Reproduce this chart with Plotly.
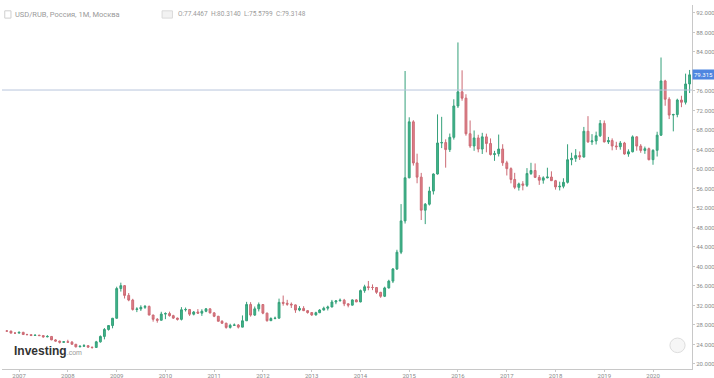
import pandas as pd
import plotly.graph_objects as go

up_color = '#3fb68b'
down_color = '#e0808a'
axis_color = '#c8c8c8'
text_color = '#8a8a8a'

# USD/RUB monthly candles, Oct 2006 .. Oct 2020
opens = [
    26.76, 26.75, 26.33,
    26.33, 26.50, 26.04, 26.01, 25.85, 25.91, 25.82, 25.56, 25.65, 24.94, 24.69, 24.45,
    24.55, 24.48, 24.04, 23.52, 23.64, 23.75, 23.45, 23.39, 24.54, 25.65, 27.08, 27.89,
    29.38, 35.48, 36.07, 34.07, 33.11, 31.18, 31.29, 31.62, 31.81, 30.04, 29.17, 28.97,
    30.24, 30.34, 29.91, 29.41, 29.15, 31.12, 31.18, 30.21, 30.66, 30.43, 30.81, 31.31,
    30.48, 29.79, 28.76, 28.36, 27.50, 27.93, 27.99, 27.56, 28.86, 32.21, 30.03, 31.31,
    32.19, 30.43, 28.88, 29.33, 29.40, 32.64, 32.45, 32.26, 32.12, 31.06, 31.40, 30.94,
    30.55, 30.06, 30.52, 31.06, 31.44, 31.69, 32.72, 32.95, 33.08, 32.34, 32.07, 33.14,
    32.73, 35.05, 35.84, 35.70, 35.69, 34.70, 33.89, 35.60, 37.00, 39.49, 42.93, 49.35,
    58.19, 69.67, 61.24, 58.33, 51.55, 52.77, 55.47, 58.97, 65.34, 65.42, 63.98, 66.50,
    72.93, 75.82, 74.53, 67.23, 64.71, 66.37, 64.09, 66.59, 65.23, 62.96, 63.14, 64.10,
    61.26, 60.07, 57.85, 56.24, 56.94, 56.66, 59.07, 59.69, 58.28, 57.70, 58.18, 58.35,
    57.60, 56.32, 56.45, 57.26, 61.90, 62.18, 62.75, 62.45, 67.74, 65.56, 65.76, 66.81,
    69.35, 65.56, 65.83, 64.72, 64.57, 65.32, 63.08, 63.53, 66.59, 64.70, 63.81, 64.16,
    61.91, 63.83, 66.94, 78.06, 74.31, 71.07, 71.17, 74.15, 73.69, 77.4467,
]
highs = [
    26.96, 26.80, 26.48,
    26.62, 26.58, 26.20, 26.03, 26.01, 25.96, 25.85, 25.91, 25.66, 25.09, 24.79, 24.68,
    24.97, 24.71, 24.11, 23.79, 24.07, 23.89, 23.50, 24.74, 25.85, 27.37, 27.95, 29.45,
    35.85, 36.68, 36.20, 34.55, 33.37, 31.65, 32.04, 32.10, 31.99, 30.09, 29.42, 30.71,
    30.60, 30.73, 30.09, 29.51, 31.66, 31.58, 31.28, 30.87, 31.26, 31.23, 31.48, 31.41,
    30.66, 29.86, 28.98, 28.46, 28.25, 28.31, 28.20, 29.96, 32.75, 32.68, 31.79, 32.62,
    32.24, 30.52, 29.58, 29.72, 33.41, 34.04, 33.16, 32.62, 32.20, 31.87, 31.86, 31.06,
    30.60, 30.72, 31.25, 31.76, 31.97, 33.14, 32.97, 33.43, 33.35, 32.42, 33.25, 33.30,
    35.27, 36.25, 37.03, 36.32, 35.74, 34.79, 35.85, 37.28, 39.68, 43.43, 52.80, 80.10,
    70.60, 70.00, 63.14, 59.20, 53.02, 56.35, 59.10, 71.20, 70.70, 66.08, 67.27, 74.30,
    85.96, 80.24, 75.33, 69.95, 67.90, 67.02, 67.42, 67.24, 66.27, 63.72, 67.06, 65.08,
    61.68, 60.34, 59.21, 57.20, 57.50, 60.18, 61.27, 61.14, 58.76, 58.50, 60.26, 59.52,
    57.76, 57.40, 58.10, 65.07, 63.34, 64.08, 63.60, 68.63, 70.84, 67.15, 67.66, 70.04,
    69.95, 66.58, 66.28, 65.58, 65.73, 65.56, 64.03, 66.89, 66.73, 65.10, 64.60, 64.39,
    64.04, 67.64, 82.87, 78.30, 74.72, 71.33, 74.42, 75.02, 79.56, 80.3140,
]
lows = [
    26.66, 26.28, 26.16,
    26.29, 26.01, 25.93, 25.72, 25.76, 25.78, 25.37, 25.48, 24.88, 24.59, 24.20, 24.40,
    24.33, 23.98, 23.39, 23.43, 23.54, 23.40, 23.13, 23.35, 24.38, 25.05, 26.85, 27.32,
    29.30, 34.85, 33.43, 32.87, 30.95, 30.64, 30.88, 31.30, 29.99, 28.68, 28.47, 28.95,
    29.19, 29.72, 29.24, 28.91, 28.93, 30.76, 29.86, 29.97, 30.26, 29.86, 30.62, 30.36,
    29.61, 28.76, 28.22, 27.24, 27.26, 27.81, 27.28, 27.56, 28.85, 29.71, 29.86, 30.78,
    30.21, 28.68, 28.86, 29.16, 29.33, 31.96, 31.94, 31.49, 30.49, 30.81, 30.85, 30.33,
    29.87, 29.94, 30.43, 30.99, 30.98, 31.64, 32.26, 32.85, 31.86, 31.62, 32.00, 32.70,
    32.65, 34.61, 35.12, 35.15, 34.39, 33.57, 33.73, 35.47, 36.60, 39.28, 42.54, 48.81,
    58.10, 60.70, 57.07, 49.53, 48.69, 52.51, 54.76, 58.86, 64.28, 60.27, 63.49, 66.03,
    72.51, 74.00, 66.83, 64.32, 63.73, 63.42, 63.08, 63.42, 62.77, 61.67, 62.57, 60.65,
    58.67, 57.05, 55.87, 55.57, 55.62, 56.30, 58.77, 58.14, 56.74, 56.99, 58.10, 57.60,
    55.77, 55.60, 56.03, 57.02, 60.76, 61.46, 61.85, 62.35, 65.36, 64.94, 65.03, 66.55,
    65.44, 65.13, 63.83, 63.92, 63.96, 62.93, 62.51, 63.41, 63.75, 63.33, 63.11, 61.77,
    60.87, 62.56, 66.77, 72.97, 70.24, 67.72, 70.61, 72.68, 73.23, 75.5799,
]
closes = [
    26.75, 26.33, 26.33,
    26.50, 26.04, 26.01, 25.85, 25.91, 25.82, 25.56, 25.65, 24.94, 24.69, 24.45, 24.55,
    24.48, 24.04, 23.52, 23.64, 23.75, 23.45, 23.39, 24.54, 25.65, 27.08, 27.89, 29.38,
    35.48, 36.07, 34.07, 33.11, 31.18, 31.29, 31.62, 31.81, 30.04, 29.17, 28.97, 30.24,
    30.34, 29.91, 29.41, 29.15, 31.12, 31.18, 30.21, 30.66, 30.43, 30.81, 31.31, 30.48,
    29.79, 28.76, 28.36, 27.50, 27.93, 27.99, 27.56, 28.86, 32.21, 30.03, 31.31, 32.19,
    30.43, 28.88, 29.33, 29.40, 32.64, 32.45, 32.26, 32.12, 31.06, 31.40, 30.94, 30.55,
    30.06, 30.52, 31.06, 31.44, 31.69, 32.72, 32.95, 33.08, 32.34, 32.07, 33.14, 32.73,
    35.05, 35.84, 35.70, 35.69, 34.70, 33.89, 35.60, 37.00, 39.49, 42.93, 49.35, 58.19,
    69.67, 61.24, 58.33, 51.55, 52.77, 55.47, 58.97, 65.34, 65.42, 63.98, 66.50, 72.93,
    75.82, 74.53, 67.23, 64.71, 66.37, 64.09, 66.59, 65.23, 62.96, 63.14, 64.10, 61.26,
    60.07, 57.85, 56.24, 56.94, 56.66, 59.07, 59.69, 58.28, 57.70, 58.18, 58.35, 57.60,
    56.32, 56.45, 57.26, 61.90, 62.18, 62.75, 62.45, 67.74, 65.56, 65.76, 66.81, 69.35,
    65.56, 65.83, 64.72, 64.57, 65.32, 63.08, 63.53, 66.59, 64.70, 63.81, 64.16, 61.91,
    63.83, 66.94, 78.06, 74.31, 71.07, 71.17, 74.15, 73.69, 77.4467, 79.3148,
]
months = pd.date_range('2006-10-01', periods=len(closes), freq='MS')

# the 80 label sits under the last-price marker in the original
y_ticks = [20, 24, 28, 32, 36, 40, 44, 48, 52, 56, 60, 64, 68, 72, 76, 84, 88, 92]
last_price = 79.3148
marker_line = 76.2

fig = go.Figure()
fig.add_trace(go.Candlestick(
    x=months, open=opens, high=highs, low=lows, close=closes,
    increasing=dict(fillcolor=up_color, line=dict(color='#35a07a', width=1)),
    decreasing=dict(fillcolor=down_color, line=dict(color='#cc6a74', width=1)),
    whiskerwidth=0, showlegend=False,
))

fig.add_hline(y=marker_line, line_color='#b8c6dc', line_width=1)

fig.update_layout(
    width=714, height=378,
    margin=dict(l=2, r=22, t=5, b=9),
    plot_bgcolor='#fff', paper_bgcolor='#fff',
    font=dict(family='Roboto', size=6, color=text_color),
)

fig.update_xaxes(
    rangeslider_visible=False, type='date',
    range=['2006-08-26', '2020-10-19'],
    tick0='2007-01-01', dtick='M12', tickformat='%Y',
    showgrid=False, showline=True, linecolor=axis_color, linewidth=1,
    ticks='outside', ticklen=2, tickcolor=axis_color,
    tickfont=dict(size=6, color=text_color), automargin=False,
    ticklabelstandoff=-1,
)
fig.update_yaxes(
    side='right', range=[18.97, 93.64],
    tickvals=y_ticks, tickformat='.3f',
    showgrid=False, showline=True, linecolor=axis_color, linewidth=1,
    ticks='outside', ticklen=2, tickcolor=axis_color,
    tickfont=dict(size=6, color=text_color), automargin=False,
)

# header
fig.add_shape(type='rect', xref='paper', yref='paper',
              x0=0.004, x1=0.013, y0=0.964, y1=0.984,
              line=dict(color='#cfcfcf', width=1))
fig.add_annotation(
    xref='paper', yref='paper', x=0.016, y=0.975, xanchor='left', yanchor='middle',
    text='USD/RUB, Россия, 1M, Москва', showarrow=False,
    font=dict(size=7.5, color='#9a9a9a'),
)
fig.add_shape(type='rect', xref='paper', yref='paper',
              x0=0.232, x1=0.247, y0=0.964, y1=0.984,
              line=dict(color='#dadada', width=1), fillcolor='#f2f2f2')
fig.add_annotation(
    xref='paper', yref='paper', x=0.252, y=0.975, xanchor='left', yanchor='middle',
    text='O:77.4467  H:80.3140  L:75.5799  C:79.3148', showarrow=False,
    font=dict(size=6.5, color='#9a9a9a'),
)

# last price label
fig.add_annotation(
    xref='paper', yref='y', x=1.0, y=last_price, xanchor='left', yanchor='middle',
    text=f'{last_price:.3f}', showarrow=False, bgcolor='#4f86e0',
    font=dict(size=6, color='#fff'), borderpad=1,
)

# watermark
fig.add_annotation(
    xref='paper', yref='paper', x=0.015, y=0.025, xanchor='left', yanchor='bottom',
    text="<b>Investing</b><span style='font-size:7px;color:#999'>.com</span>",
    showarrow=False, font=dict(family='Arial', size=12, color='#333'),
)
fig.add_shape(
    type='circle', xref='paper', yref='paper',
    x0=0.968, x1=0.99, y0=0.045, y1=0.085,
    line=dict(color='#dddddd', width=1), fillcolor='#f6f6f6',
)

# page body has a default margin; drop it so the figure sits at the window's corner
fig.write_html('out.html', config={'displayModeBar': False},
               post_script="document.body.style.margin='0';")
